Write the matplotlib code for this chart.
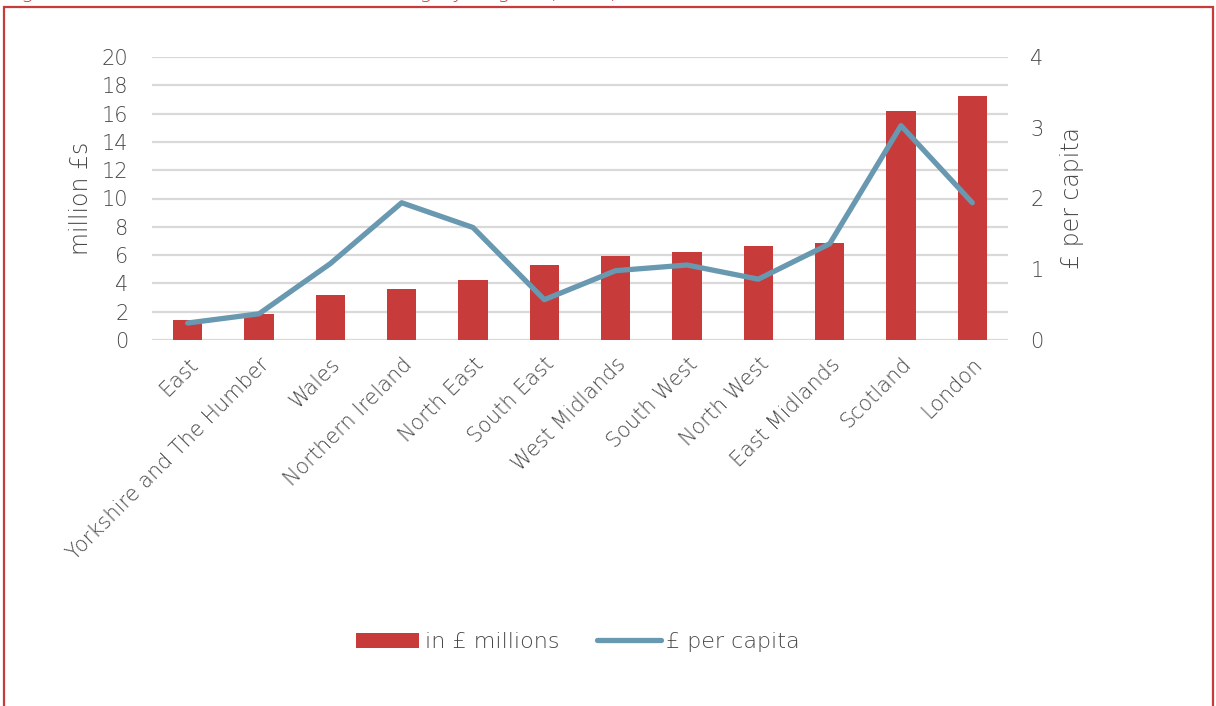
import numpy as np
import matplotlib.pyplot as plt
from matplotlib.patches import Rectangle, Patch
from matplotlib.lines import Line2D

regions = ['East', 'Yorkshire and The Humber', 'Wales', 'Northern Ireland', 'North East',
           'South East', 'West Midlands', 'South West', 'North West', 'East Midlands',
           'Scotland', 'London']
millions = [1.4, 1.85, 3.15, 3.6, 4.25, 5.3, 5.95, 6.2, 6.65, 6.85, 16.2, 17.25]
per_capita = [0.24, 0.37, 1.08, 1.94, 1.59, 0.57, 0.98, 1.06, 0.86, 1.36, 3.03, 1.94]

red = '#C73B3B'
blue = '#6899B0'
grey = '#484848'
plt.rcParams['font.family'] = ['DejaVu Sans']
plt.rcParams['font.weight'] = 'light'
plt.rcParams['axes.labelweight'] = 'light'

fig = plt.figure(figsize=(12.16, 7.06), dpi=100)
ax = fig.add_axes([152/1216, 1-340/706, 856/1216, 283/706])
ax2 = ax.twinx()

x = np.arange(len(regions))
ax.bar(x, millions, width=0.41, color=red, zorder=2)
ax2.plot(x, per_capita, color=blue, lw=3.8, solid_capstyle='round', solid_joinstyle='round')

ax.set_xlim(-0.5, len(regions) - 0.5)
ax.set_ylim(0, 20)
ax.set_yticks(np.arange(0, 21, 2))
ax2.set_ylim(0, 4)
ax2.set_yticks(np.arange(0, 5, 1))

ax.yaxis.grid(True, color='#D9D9D9', lw=1.6, zorder=1)
ax.set_axisbelow(True)
for a in (ax, ax2):
    for s in a.spines.values():
        s.set_visible(False)
    a.tick_params(length=0, labelsize=15, labelcolor=grey)
ax.tick_params(axis='y', pad=17)
ax2.tick_params(axis='y', pad=16)
ax.set_xticks(x)
ax.set_xticklabels(regions, rotation=45, ha='right', rotation_mode='anchor')
ax.tick_params(axis='x', pad=10)

ax.set_ylabel('million £s', fontsize=17, color=grey, labelpad=6)
ax2.set_ylabel('£ per capita', fontsize=17, color=grey, labelpad=12)

handles = [Patch(facecolor=red), Line2D([], [], color=blue, lw=3.8, solid_capstyle='round')]
fig.legend(handles, ['in £ millions', '£ per capita'], loc='center', ncol=2,
           bbox_to_anchor=(578/1216, 1-642/706), frameon=False, fontsize=16,
           labelcolor=grey, handlelength=2.85, handleheight=0.65,
           handletextpad=0.25, columnspacing=1.7)

# title sits above the border, mostly cut off by the page edge
fig.text(5/1216, 1 + 2.5/706, 'Figure 6: Market volume of crowdfunding by Region (2015)',
         fontsize=15, color=red, va='baseline', ha='left')

fig.patches.append(Rectangle((3.5/1216, -0.05), 1209/1216, 1.05 - 6.5/706,
                             transform=fig.transFigure, fill=False,
                             edgecolor=red, lw=1.6))

fig.savefig('out.png', dpi=100)
